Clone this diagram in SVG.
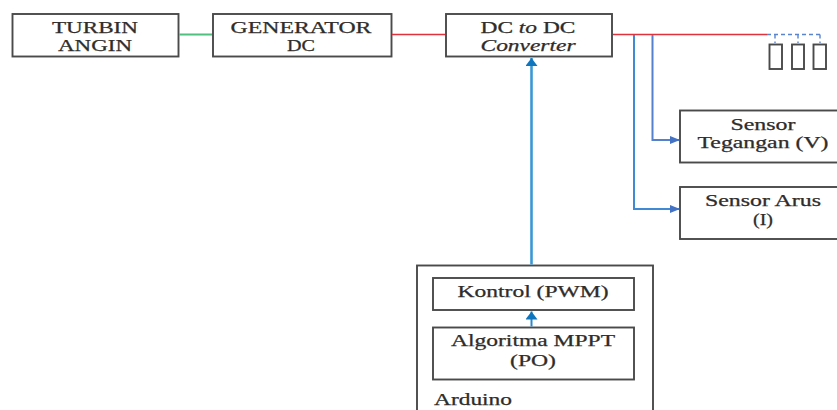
<svg xmlns="http://www.w3.org/2000/svg" width="837" height="410" viewBox="0 0 837 410">
<style>
.b{fill:#fff;stroke:#4a4a4a;stroke-width:1.9}
.t{font-family:"Liberation Serif","Times New Roman",serif;font-size:16px;fill:#2f2c2a;text-anchor:middle;stroke:#2f2c2a;stroke-width:.25}
.c{fill:none}
</style>
<defs>
<marker id="a1" markerUnits="userSpaceOnUse" markerWidth="12" markerHeight="12" refX="8" refY="6" orient="auto"><path d="M0 0L8 6L0 12Z" fill="#0f75bd"/></marker>
<marker id="a2" markerUnits="userSpaceOnUse" markerWidth="10" markerHeight="8" refX="9" refY="4" orient="auto"><path d="M0 0L10 4L0 8Z" fill="#4472c4"/></marker>
</defs>
<rect width="837" height="410" fill="#fff"/>
<g id="turbin"><rect class="b" x="12.500" y="14" width="166" height="42.500"/>
<text class="t" x="95" y="33" textLength="86" lengthAdjust="spacingAndGlyphs">TURBIN</text>
<text class="t" x="95" y="51" textLength="74" lengthAdjust="spacingAndGlyphs">ANGIN</text></g>
<g id="generator"><rect class="b" x="213" y="14" width="178.500" height="42.500"/>
<text class="t" x="301" y="33" textLength="141" lengthAdjust="spacingAndGlyphs">GENERATOR</text>
<text class="t" x="301" y="51" textLength="28" lengthAdjust="spacingAndGlyphs">DC</text></g>
<g id="converter"><rect class="b" x="446" y="14" width="166" height="42.500"/>
<text class="t" x="528" y="33" textLength="95" lengthAdjust="spacingAndGlyphs">DC <tspan font-style="italic">to</tspan> DC</text>
<text class="t" x="528" y="51" textLength="95" lengthAdjust="spacingAndGlyphs" font-style="italic">Converter</text></g>
<g id="load1"><rect class="b" x="769.500" y="44.500" width="12.500" height="24.500"/></g>
<g id="load2"><rect class="b" x="792" y="44.500" width="12" height="24.500"/></g>
<g id="load3"><rect class="b" x="813.500" y="44.500" width="12.500" height="24.500"/></g>
<g id="sensor-v"><rect class="b" x="680" y="110.500" width="170" height="52"/>
<text class="t" x="763" y="130" textLength="65" lengthAdjust="spacingAndGlyphs">Sensor</text>
<text class="t" x="763" y="148" textLength="131" lengthAdjust="spacingAndGlyphs">Tegangan (V)</text></g>
<g id="sensor-i"><rect class="b" x="680" y="187" width="170" height="52"/>
<text class="t" x="763" y="206" textLength="116" lengthAdjust="spacingAndGlyphs">Sensor Arus</text>
<text class="t" x="763" y="225" textLength="20" lengthAdjust="spacingAndGlyphs">(I)</text></g>
<g id="arduino"><rect class="b" x="417" y="265.500" width="236" height="160"/>
<text class="t" x="473" y="405" textLength="78" lengthAdjust="spacingAndGlyphs">Arduino</text></g>
<g id="kontrol"><rect class="b" x="433" y="278" width="201" height="32"/>
<text class="t" x="533" y="297" textLength="151" lengthAdjust="spacingAndGlyphs">Kontrol (PWM)</text></g>
<g id="mppt"><rect class="b" x="433" y="327.500" width="201" height="52"/>
<text class="t" x="533" y="346" textLength="164" lengthAdjust="spacingAndGlyphs">Algoritma MPPT</text>
<text class="t" x="533" y="366" textLength="46" lengthAdjust="spacingAndGlyphs">(PO)</text></g>
<g id="connectors" class="c">
<path d="M179 34.500H212" stroke="#4fc07f" stroke-width="1.8"/>
<path d="M392 34.500H445M613 34.500H767" stroke="#e0323c" stroke-width="1.6"/>
<path d="M767 34.500H820M775 34.500V43M798 34.500V43M820 34.500V43" stroke="#5b84cf" stroke-width="1.4" stroke-dasharray="4 3"/>
<path d="M634 35V209H679" stroke="#3f8ad2" stroke-width="2" marker-end="url(#a2)"/>
<path d="M652.500 35V140H679" stroke="#5580cc" stroke-width="2" marker-end="url(#a2)"/>
<path d="M531.500 264.500V58" stroke="#3a97d6" stroke-width="2.600" marker-end="url(#a1)"/>
<path d="M531.500 326.500V311.500" stroke="#2a88cf" stroke-width="2" marker-end="url(#a1)"/>
</g>
</svg>
